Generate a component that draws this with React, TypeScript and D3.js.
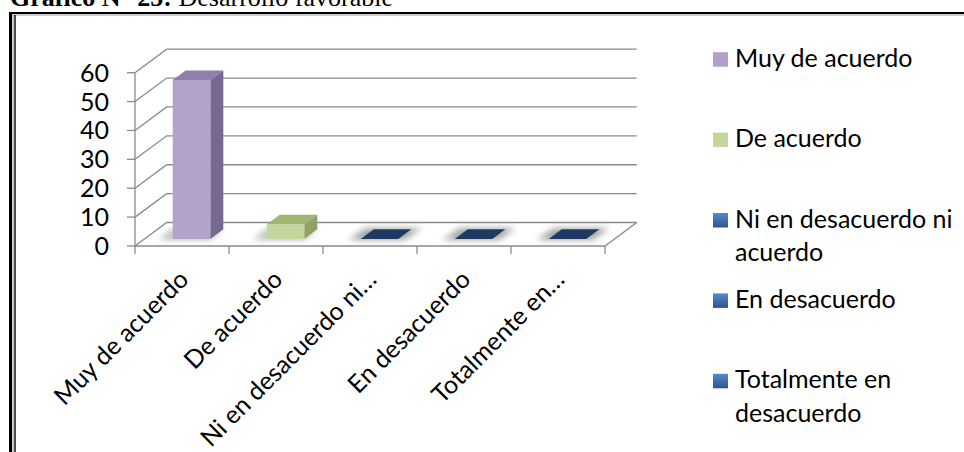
import React from "react";
import * as d3 from "d3";

// Survey result: "Desarrollo favorable"
const categories = [
  "Muy de acuerdo",
  "De acuerdo",
  "Ni en desacuerdo ni acuerdo",
  "En desacuerdo",
  "Totalmente en desacuerdo",
];
const axisLabels = [
  "Muy de acuerdo",
  "De acuerdo",
  "Ni en desacuerdo ni…",
  "En desacuerdo",
  "Totalmente en…",
];
const legendLines = [
  ["Muy de acuerdo"],
  ["De acuerdo"],
  ["Ni en desacuerdo ni", "acuerdo"],
  ["En desacuerdo"],
  ["Totalmente en", "desacuerdo"],
];
const values = [55, 5, 0, 0, 0];
const yTicks = [0, 10, 20, 30, 40, 50, 60];

const W = 964;
const H = 452;
const FONT = "Lato, 'Open Sans', sans-serif";

// 3D projection of the plot box
const DX = 31.7; // depth offset in x
const DY = 23.5; // depth offset in y (upwards)
const F1 = 0.3; // bar front depth
const F2 = 0.71; // bar back depth

const palette = [
  { front: "#B1A3C9", side: "#776891", top: "#8E80AB", legend: "#B1A0C7" },
  { front: "#C4D79B", side: "#8FA368", top: "#A0B574", legend: "#C3D69B" },
  { front: "#1F3A60", side: "#1F3A60", top: "#1F3A60", legend: "blue" },
  { front: "#1F3A60", side: "#1F3A60", top: "#1F3A60", legend: "blue" },
  { front: "#1F3A60", side: "#1F3A60", top: "#1F3A60", legend: "blue" },
];

export default function App() {
  const x = d3
    .scaleBand<string>()
    .domain(categories)
    .range([135, 605])
    .paddingInner(0.6)
    .paddingOuter(0.3);
  const y = d3.scaleLinear().domain([0, 60]).range([246, 72.7]);
  const step = x.step();
  const x0 = 135;
  const x1 = 605;

  const P = (px: number, v: number, f: number): [number, number] => [
    px + f * DX,
    y(v) - f * DY,
  ];
  const poly = (pts: [number, number][]) =>
    pts.map((p) => p[0].toFixed(2) + "," + p[1].toFixed(2)).join(" ");

  const grid = "#8A8A8A";

  return (
    <svg
      width={W}
      height={H}
      style={{ position: "absolute", left: 0, top: 0, background: "#fff" }}
      xmlns="http://www.w3.org/2000/svg"
    >
      <defs>
        <filter id="soft" x="-50%" y="-100%" width="200%" height="300%">
          <feGaussianBlur stdDeviation="3" />
        </filter>
        <linearGradient id="blue" x1="0" y1="0" x2="0" y2="1">
          <stop offset="0" stopColor="#5A8BC8" />
          <stop offset="1" stopColor="#2A5590" />
        </linearGradient>
      </defs>

      {/* heading */}
      <text x={10} y={5.5} fontFamily="'Liberation Serif', 'Times New Roman', serif" fontSize={26} fill="#000">
        <tspan fontWeight="bold">Gráfico N° 25:</tspan>
        <tspan> Desarrollo favorable</tspan>
      </text>

      {/* frame */}
      <line x1={9} y1={13} x2={W} y2={13} stroke="#000" strokeWidth={2} />
      <line x1={12} y1={15} x2={W} y2={15} stroke="#9a9a9a" strokeWidth={1} />
      <line x1={10.5} y1={12} x2={10.5} y2={H} stroke="#000" strokeWidth={3} />
      <line x1={13} y1={15} x2={13} y2={H} stroke="#9a9a9a" strokeWidth={1} />
      <line x1={15} y1={15} x2={15} y2={H} stroke="#000" strokeWidth={1.4} />

      {/* walls: back gridlines and side-wall diagonals */}
      {yTicks.map((t) => {
        const a = P(x0, t, 0);
        const b = P(x0, t, 1);
        const c = P(x1, t, 1);
        return (
          <g key={"g" + t}>
            <polyline
              points={poly([a, b, c])}
              fill="none"
              stroke={grid}
              strokeWidth={1.3}
            />
            <line x1={x0 - 8} y1={a[1]} x2={x0} y2={a[1]} stroke={grid} strokeWidth={1.3} />
            <text
              x={109}
              y={a[1]}
              dy="0.36em"
              textAnchor="end"
              fontFamily={FONT}
              fontSize={25}
              fill="#000"
            >
              {t}
            </text>
          </g>
        );
      })}
      {/* value axis */}
      <line x1={x0} y1={y(60)} x2={x0} y2={y(0)} stroke={grid} strokeWidth={1.3} />
      {/* floor front edge and right side */}
      <polyline
        points={poly([P(x0, 0, 0), P(x1, 0, 0), P(x1, 0, 1)])}
        fill="none"
        stroke={grid}
        strokeWidth={1.3}
      />
      {/* category ticks */}
      {d3.range(categories.length + 1).map((i) => {
        const px = x0 + i * step;
        return (
          <line key={"t" + i} x1={px} y1={y(0)} x2={px} y2={y(0) + 8} stroke={grid} strokeWidth={1.3} />
        );
      })}

      {/* bars */}
      {categories.map((c, i) => {
        const v = values[i];
        const bx = x(c)!;
        const bw = x.bandwidth();
        const col = palette[i];
        const fbl = P(bx, 0, F1);
        const fbr = P(bx + bw, 0, F1);
        const ftl = P(bx, v, F1);
        const ftr = P(bx + bw, v, F1);
        const btl = P(bx, v, F2);
        const btr = P(bx + bw, v, F2);
        const bbr = P(bx + bw, 0, F2);
        if (v === 0) {
          return (
            <g key={c}>
              <polygon
                points={poly([
                  [fbl[0] - 12, fbl[1] + 1],
                  [fbr[0] + 6, fbr[1] + 1],
                  [bbr[0] + 10, bbr[1] - 1],
                  [P(bx, 0, F2)[0] - 8, bbr[1] - 1],
                ])}
                fill="#7a7a7a"
                opacity={0.7}
                filter="url(#soft)"
              />
              <polygon
                points={poly([fbl, fbr, bbr, P(bx, 0, F2)])}
                fill={col.top}
              />
            </g>
          );
        }
        return (
          <g key={c}>
            <polygon
              points={poly([
                [fbl[0] - 14, fbl[1] + 1],
                [fbr[0], fbr[1] + 1],
                [bbr[0], bbr[1]],
                [P(bx, 0, F2)[0] - 14, bbr[1]],
              ])}
              fill="#8a8a8a"
              opacity={0.55}
              filter="url(#soft)"
            />
            <polygon points={poly([ftl, ftr, btr, btl])} fill={col.top} />
            <polygon points={poly([fbr, ftr, btr, bbr])} fill={col.side} />
            <polygon points={poly([fbl, fbr, ftr, ftl])} fill={col.front} />
          </g>
        );
      })}

      {/* category labels */}
      {categories.map((c, i) => {
        const cx = x0 + (i + 0.5) * step;
        return (
          <text
            key={"l" + c}
            transform={`translate(${cx + 8},281) rotate(-45)`}
            textAnchor="end"
            fontFamily={FONT}
            fontSize={25}
            fill="#000"
          >
            {axisLabels[i]}
          </text>
        );
      })}

      {/* legend */}
      {legendLines.map((lines, i) => {
        const base = 66.7 + i * 80.4;
        const col = palette[i];
        return (
          <g key={"lg" + i}>
            <rect
              x={713}
              y={base - 14.5}
              width={15}
              height={14.5}
              fill={col.legend === "blue" ? "url(#blue)" : col.legend}
            />
            {lines.map((ln, j) => (
              <text
                key={j}
                x={735}
                y={base + j * 33.5}
                fontFamily={FONT}
                fontSize={25}
                fill="#000"
              >
                {ln}
              </text>
            ))}
          </g>
        );
      })}
    </svg>
  );
}
